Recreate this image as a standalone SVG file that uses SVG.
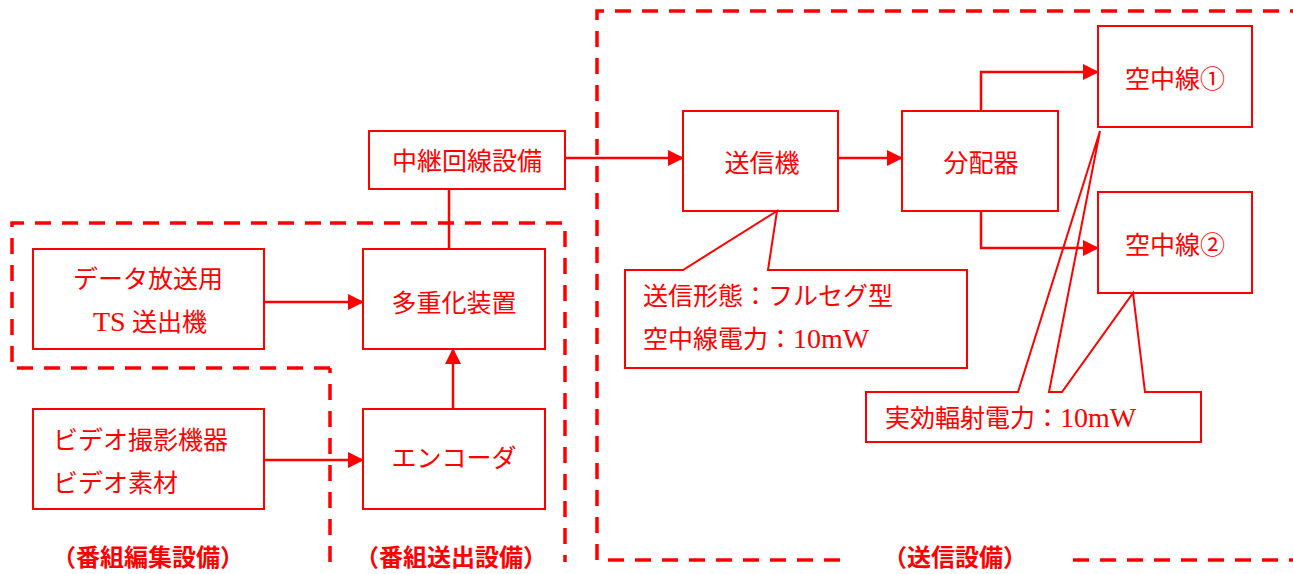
<svg xmlns="http://www.w3.org/2000/svg" width="1293" height="574" viewBox="0 0 1293 574">
<style>
.box{fill:none;stroke:#ff0000;stroke-width:2}
.dash{fill:none;stroke:#ff0000;stroke-width:3.5;stroke-dasharray:16 11}
.con{fill:none;stroke:#ff0000;stroke-width:2.5}
.call{fill:none;stroke:#ff0000;stroke-width:2}
.t{font-family:"Liberation Serif","Noto Sans CJK JP",serif;font-size:25px;fill:#ff0000}
.c{text-anchor:middle}
.lat{font-size:28px}
.lbl{font-family:"Noto Sans CJK JP",sans-serif;font-size:24px;font-weight:bold;fill:#ff0000;text-anchor:middle}
</style>
<defs>
<marker id="arr" markerUnits="userSpaceOnUse" markerWidth="16" markerHeight="16" viewBox="0 0 16 16" refX="15" refY="8" orient="auto">
<path d="M0,0 L16,8 L0,16 Z" fill="#ff0000"/>
</marker>
</defs>
<rect width="1293" height="574" fill="#ffffff"/>
<g id="regions">
<path class="dash" d="M330,368 H12 V223 H330"/>
<path class="dash" d="M330,562 V368 M330,223 H565 V562"/>
<path class="dash" d="M840,560 H597 V11 H1293 M1073,560 H1293"/>
<text class="lbl" x="148" y="566">（番組編集設備）</text>
<text class="lbl" x="451" y="566">（番組送出設備）</text>
<text class="lbl" x="955" y="566">（送信設備）</text>
</g>
<g id="n-chukei"><rect class="box" x="369" y="131" width="196" height="58"/><text class="t c" x="467" y="170">中継回線設備</text></g>
<g id="n-data"><rect class="box" x="33" y="249" width="231" height="100"/><text class="t c" x="148" y="288">データ放送用</text><text class="t c" x="150" y="331"><tspan class="lat">TS</tspan> 送出機</text></g>
<g id="n-tajuka"><rect class="box" x="363" y="249" width="182" height="100"/><text class="t c" x="454" y="312">多重化装置</text></g>
<g id="n-video"><rect class="box" x="33" y="409" width="231" height="100"/><text class="t" x="53" y="449">ビデオ撮影機器</text><text class="t" x="53" y="492">ビデオ素材</text></g>
<g id="n-encoder"><rect class="box" x="363" y="409" width="182" height="100"/><text class="t c" x="454" y="467">エンコーダ</text></g>
<g id="n-soshinki"><rect class="box" x="683" y="111" width="155" height="100"/><text class="t c" x="762" y="172">送信機</text></g>
<g id="n-bunpai"><rect class="box" x="902" y="111" width="156" height="100"/><text class="t c" x="981" y="172">分配器</text></g>
<g id="n-ant1"><rect class="box" x="1098" y="26" width="154" height="101"/><text class="t c" x="1175" y="88">空中線①</text></g>
<g id="n-ant2"><rect class="box" x="1098" y="192" width="154" height="101"/><text class="t c" x="1175" y="254">空中線②</text></g>
<g id="connectors">
<path class="con" d="M264,302 H363" marker-end="url(#arr)"/>
<path class="con" d="M264,460 H363" marker-end="url(#arr)"/>
<path class="con" d="M453,409 V349" marker-end="url(#arr)"/>
<path class="con" d="M449,189 V249"/>
<path class="con" d="M565,158 H683" marker-end="url(#arr)"/>
<path class="con" d="M838,158 H902" marker-end="url(#arr)"/>
<path class="con" d="M981,111 V72 H1098" marker-end="url(#arr)"/>
<path class="con" d="M981,211 V248 H1098" marker-end="url(#arr)"/>
</g>
<g id="callout1">
<path class="call" d="M625,270 H683 L777,211 L768,270 H967 V368 H625 Z"/>
<text class="t" x="643" y="305">送信形態：フルセグ型</text>
<text class="t" x="643" y="348">空中線電力：<tspan class="lat">10mW</tspan></text>
</g>
<g id="callout2">
<path class="call" d="M866,392 H1018 L1100,131 L1049,392 H1062 L1133,293 L1145,392 H1201 V442 H866 Z"/>
<text class="t" x="885" y="427">実効輻射電力：<tspan class="lat">10mW</tspan></text>
</g>
</svg>
